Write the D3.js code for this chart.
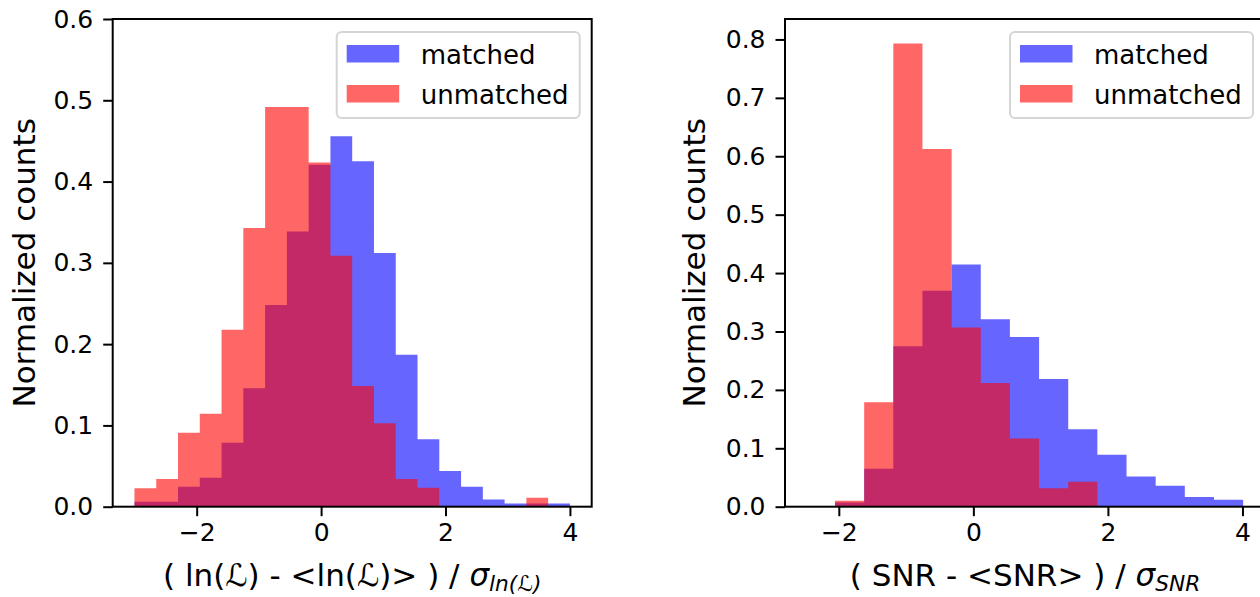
<!DOCTYPE html>
<html>
<head>
<meta charset="utf-8">
<script src="https://cdn.jsdelivr.net/npm/d3@7"></script>
<style>
  html, body { margin: 0; padding: 0; background: #fff; }
  svg { display: block; font-family: "DejaVu Sans", sans-serif; }
</style>
</head>
<body>
<svg id="chart" width="1260" height="597"></svg>
<script>
// ---------- data ----------
const seriesNames = ["matched", "unmatched"];

// Left panel: ( ln(L) - <ln(L)> ) / sigma
const leftEdges = [-3.0, -2.65, -2.3, -1.95, -1.6, -1.25, -0.9, -0.55, -0.2, 0.15, 0.5,
                   0.85, 1.2, 1.55, 1.9, 2.25, 2.6, 2.95, 3.3, 3.65, 4.0];
const leftMatched = [0.006, 0.006, 0.0246, 0.0357, 0.0788, 0.1458, 0.248, 0.3387, 0.4208, 0.4557,
                     0.4249, 0.312, 0.1868, 0.083, 0.044, 0.0246, 0.009, 0.004, 0.004, 0.004];
const leftUnmatched = [0.0226, 0.034, 0.091, 0.1145, 0.2176, 0.343, 0.4918, 0.4918, 0.4236, 0.3087,
                       0.1486, 0.1027, 0.034, 0.0234, 0, 0, 0, 0, 0.011, 0];
const leftXTicks = [-2, 0, 2, 4];
const leftYTicks = [0.0, 0.1, 0.2, 0.3, 0.4, 0.5, 0.6];
const leftXDomain = [-3.35, 4.35];
const leftYDomain = [0, 0.6];

// Right panel: ( SNR - <SNR> ) / sigma
const rightEdges = [-2.057, -1.623, -1.19, -0.757, -0.323, 0.11, 0.543, 0.977, 1.41,
                    1.843, 2.277, 2.71, 3.143, 3.577, 4.01];
const rightMatched = [0.007, 0.065, 0.2745, 0.3696, 0.4145, 0.321, 0.2904, 0.2186, 0.1327,
                      0.0888, 0.0519, 0.0359, 0.0166, 0.012];
const rightUnmatched = [0.0102, 0.179, 0.793, 0.6126, 0.307, 0.2118, 0.1168, 0.0314, 0.0427,
                        0, 0, 0, 0, 0];
const rightXTicks = [-2, 0, 2, 4];
const rightYTicks = [0.0, 0.1, 0.2, 0.3, 0.4, 0.5, 0.6, 0.7, 0.8];
const rightXDomain = [-2.80, 4.335];
const rightYDomain = [0, 0.835];

// ---------- drawing ----------
const svg = d3.select("#chart");
const colors = { matched: "#0000ff", unmatched: "#ff0000" };
const TICK_FONT = 25, LABEL_FONT = 31, LEGEND_FONT = 26;

function panel(o) {
  const x = d3.scaleLinear().domain(o.xDomain).range([o.left, o.right]);
  const y = d3.scaleLinear().domain(o.yDomain).range([o.bottom, o.top]);
  const g = svg.append("g");

  const series = [
    { name: "matched", values: o.matched },
    { name: "unmatched", values: o.unmatched }
  ];
  // each histogram drawn as one step-shaped area (no seams between bins)
  const area = d3.area()
    .x(d => x(d.e))
    .y0(y(0))
    .y1(d => y(d.v))
    .curve(d3.curveStepAfter);
  series.forEach(s => {
    const pts = o.edges.map((e, i) => ({ e, v: i < s.values.length ? s.values[i] : s.values[s.values.length - 1] }));
    g.append("path")
      .datum(pts)
      .attr("d", area)
      .attr("fill", colors[s.name])
      .attr("fill-opacity", 0.6);
  });

  // axes
  const xAxis = d3.axisBottom(x).tickValues(o.xTicks).tickSize(9.5).tickPadding(7)
    .tickFormat(d => d < 0 ? "\u2212" + Math.abs(d) : String(d));
  const gx = g.append("g").attr("transform", `translate(0,${o.bottom})`).call(xAxis);
  const yAxis = d3.axisLeft(y).tickValues(o.yTicks).tickSize(9.5).tickPadding(10)
    .tickFormat(d3.format(".1f"));
  const gy = g.append("g").attr("transform", `translate(${o.left},0)`).call(yAxis);
  [gx, gy].forEach(a => {
    a.select(".domain").remove();
    a.selectAll(".tick line").attr("stroke", "#000").attr("stroke-width", 2);
    a.selectAll(".tick text").attr("fill", "#000")
      .style("font-family", "DejaVu Sans").style("font-size", TICK_FONT + "px");
  });

  // frame
  g.append("rect")
    .attr("x", o.left).attr("y", o.top)
    .attr("width", o.right - o.left).attr("height", o.bottom - o.top)
    .attr("fill", "none").attr("stroke", "#000").attr("stroke-width", 2);

  // y label
  g.append("text")
    .attr("transform", `translate(${o.ylabelX},${(o.top + o.bottom) / 2}) rotate(-90)`)
    .attr("text-anchor", "middle")
    .style("font-size", LABEL_FONT + "px")
    .text("Normalized counts");

  // x label
  const xl = g.append("text")
    .attr("x", (o.left + o.right) / 2).attr("y", o.xlabelY)
    .attr("text-anchor", "middle")
    .style("font-size", LABEL_FONT + "px");
  xl.append("tspan").text(o.xlabelMain);
  xl.append("tspan").attr("font-style", "italic").text("\u03C3");
  xl.append("tspan").attr("font-style", "italic").attr("font-size", (LABEL_FONT * 0.7) + "px")
    .attr("dy", 4.5).text(o.xlabelSub);

  // legend
  const lw = 243, lh = 86;
  const lx = o.right - 12 - lw, ly = o.top + 13;
  const lg = g.append("g").attr("transform", `translate(${lx},${ly})`);
  lg.append("rect").attr("width", lw).attr("height", lh).attr("rx", 5)
    .attr("fill", "#fff").attr("fill-opacity", 0.8)
    .attr("stroke", "#d5d5d5").attr("stroke-width", 2);
  seriesNames.forEach((n, i) => {
    lg.append("rect").attr("x", 10).attr("y", 13 + i * 40).attr("width", 52.5).attr("height", 17.5)
      .attr("fill", colors[n]).attr("fill-opacity", 0.6);
    lg.append("text").attr("x", 84).attr("y", 31.5 + i * 40)
      .style("font-size", LEGEND_FONT + "px").text(n);
  });
}

panel({
  left: 112.7, right: 591.7, top: 19, bottom: 506.7,
  xDomain: leftXDomain, yDomain: leftYDomain,
  edges: leftEdges, matched: leftMatched, unmatched: leftUnmatched,
  xTicks: leftXTicks, yTicks: leftYTicks,
  ylabelX: 35, xlabelY: 586,
  xlabelMain: "( ln(\u2112) - <ln(\u2112)> ) / ", xlabelSub: "ln(\u2112)"
});

panel({
  left: 785, right: 1265, top: 19, bottom: 506.7,
  xDomain: rightXDomain, yDomain: rightYDomain,
  edges: rightEdges, matched: rightMatched, unmatched: rightUnmatched,
  xTicks: rightXTicks, yTicks: rightYTicks,
  ylabelX: 705, xlabelY: 586,
  xlabelMain: "( SNR - <SNR> ) / ", xlabelSub: "SNR"
});
</script>
</body>
</html>
